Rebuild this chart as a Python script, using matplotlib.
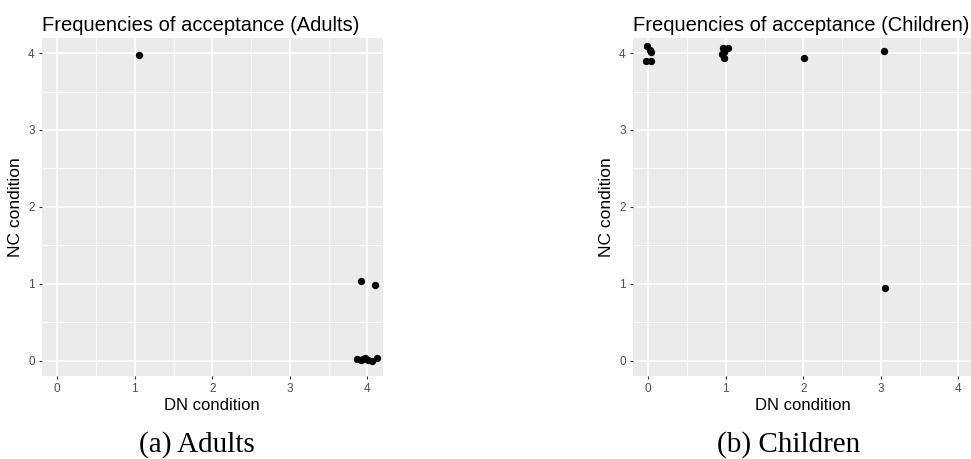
import matplotlib
matplotlib.use("Agg")
import matplotlib.pyplot as plt
from matplotlib.ticker import MultipleLocator

# Data (jittered points)
adults_dn = [1.05, 3.91, 4.10, 3.87, 3.91, 3.97, 4.06, 4.12, 3.94, 4.01]
adults_nc = [3.97, 1.03, 0.98, 0.02, 0.01, 0.03, 0.00, 0.04, 0.02, 0.01]

children_dn = [-0.02, 0.02, 0.04, -0.03, 0.04, 0.97, 1.03, 0.975, 0.95, 0.975, 2.01, 3.04, 3.05]
children_nc = [4.09, 4.04, 4.02, 3.90, 3.90, 4.06, 4.06, 4.01, 3.99, 3.94, 3.93, 4.03, 0.94]

titles = ["Frequencies of acceptance (Adults)", "Frequencies of acceptance (Children)"]
captions = ["(a) Adults", "(b) Children"]
ticks = [0, 1, 2, 3, 4]

W, H = 971, 459
fig = plt.figure(figsize=(W / 100, H / 100), dpi=100)

font = "Liberation Sans"
panels = [(41.7, adults_dn, adults_nc), (632.7, children_dn, children_nc)]
for i, (lx, xs, ys) in enumerate(panels):
    ax = fig.add_axes([lx / W, (H - 376) / H, 341.3 / W, (376 - 37.7) / H])
    ax.set_facecolor("#EBEBEB")
    for s in ax.spines.values():
        s.set_visible(False)
    ax.set_xlim(-0.2, 4.2)
    ax.set_ylim(-0.2, 4.2)
    ax.set_xticks(ticks)
    ax.set_yticks(ticks)
    ax.xaxis.set_minor_locator(MultipleLocator(0.5))
    ax.yaxis.set_minor_locator(MultipleLocator(0.5))
    ax.grid(which="major", color="white", linewidth=1.1)
    ax.grid(which="minor", color="white", linewidth=0.55)
    ax.set_axisbelow(True)
    ax.tick_params(which="major", length=2.5, width=0.8, color="#333333",
                   labelcolor="#4D4D4D", labelsize=8.5, pad=2.5)
    ax.tick_params(which="minor", length=0)
    for lab in ax.get_xticklabels() + ax.get_yticklabels():
        lab.set_fontfamily(font)
    ax.scatter(xs, ys, s=28, color="black", zorder=3, linewidths=0)
    ax.set_xlabel("DN condition", fontsize=12, fontfamily=font, labelpad=2)
    ax.set_ylabel("NC condition", fontsize=12.5, fontfamily=font, labelpad=4)
    ax.set_title(titles[i], loc="left", fontsize=14.5, fontfamily=font, pad=5)
    fig.text((lx + 155.5) / W, 1 - 445 / H, captions[i], ha="center", va="center",
             fontsize=21, fontfamily="Liberation Serif")

fig.savefig("out.png", dpi=100)
